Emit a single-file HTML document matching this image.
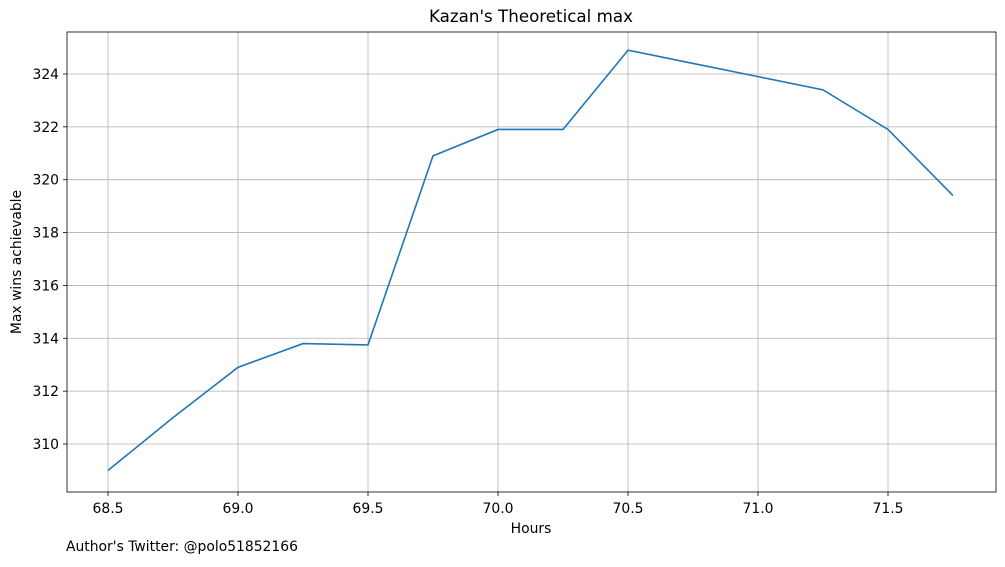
<!DOCTYPE html>
<html><head><meta charset="utf-8"><style>
body{margin:0;background:#fff;}
svg text{font-family:"DejaVu Sans","Liberation Sans",sans-serif;fill:#000;}
</style></head><body>
<svg width="1005" height="562" xmlns="http://www.w3.org/2000/svg">
<g id="grid"></g>
<g id="ticks"></g>
<polyline id="line" fill="none" stroke="#1f77b4" stroke-width="1.6"/>
<rect x="67" y="32" width="929" height="460" fill="none" stroke="#000" stroke-width="0.8"/>
<text x="531" y="22" font-size="16.7" text-anchor="middle">Kazan's Theoretical max</text>
<text x="531" y="533" font-size="13.9" text-anchor="middle">Hours</text>
<text transform="translate(21,262) rotate(-90)" font-size="13.9" text-anchor="middle">Max wins achievable</text>
<text x="66" y="551" font-size="13.9">Author's Twitter: @polo51852166</text>
</svg>
<script>
const hours=[68.5,68.75,69.0,69.25,69.5,69.75,70.0,70.25,70.5,70.75,71.0,71.25,71.5,71.75];
const wins=[309.0,311.0,312.9,313.8,313.75,320.9,321.9,321.9,324.9,324.4,323.9,323.4,321.9,319.4];
const xTicks=[68.5,69.0,69.5,70.0,70.5,71.0,71.5];
const yTicks=[310,312,314,316,318,320,322,324];
const X=v=>108+(v-68.5)*260;
const Y=v=>444-(v-310)*26.43;
const ns="http://www.w3.org/2000/svg";
const grid=document.getElementById('grid'),ticks=document.getElementById('ticks');
function mk(tag,attrs,parent){const e=document.createElementNS(ns,tag);for(const k in attrs)e.setAttribute(k,attrs[k]);parent.appendChild(e);return e;}
xTicks.forEach(t=>{
 const gl=mk('line',{x1:X(t),x2:X(t),y1:32,y2:492,stroke:'#b0b0b0','stroke-width':0.8},grid);
 
 
 mk('line',{x1:X(t),x2:X(t),y1:492,y2:496,stroke:'#000','stroke-width':0.8},ticks);
 const tx=mk('text',{x:X(t),y:513,'font-size':13.9,'text-anchor':'middle'},ticks);
 tx.textContent=t.toFixed(1);
 
 
});
yTicks.forEach(t=>{
 const gl=mk('line',{x1:67,x2:996,y1:Y(t),y2:Y(t),stroke:'#b0b0b0','stroke-width':0.8},grid);
 
 
 mk('line',{x1:63,x2:67,y1:Y(t),y2:Y(t),stroke:'#000','stroke-width':0.8},ticks);
 const tx=mk('text',{x:59,y:Y(t)+5,'font-size':13.9,'text-anchor':'end'},ticks);
 tx.textContent=t;
 
 
});
document.getElementById('line').setAttribute('points',hours.map((h,i)=>X(h)+','+Y(wins[i])).join(' '));
</script>
</body></html>
